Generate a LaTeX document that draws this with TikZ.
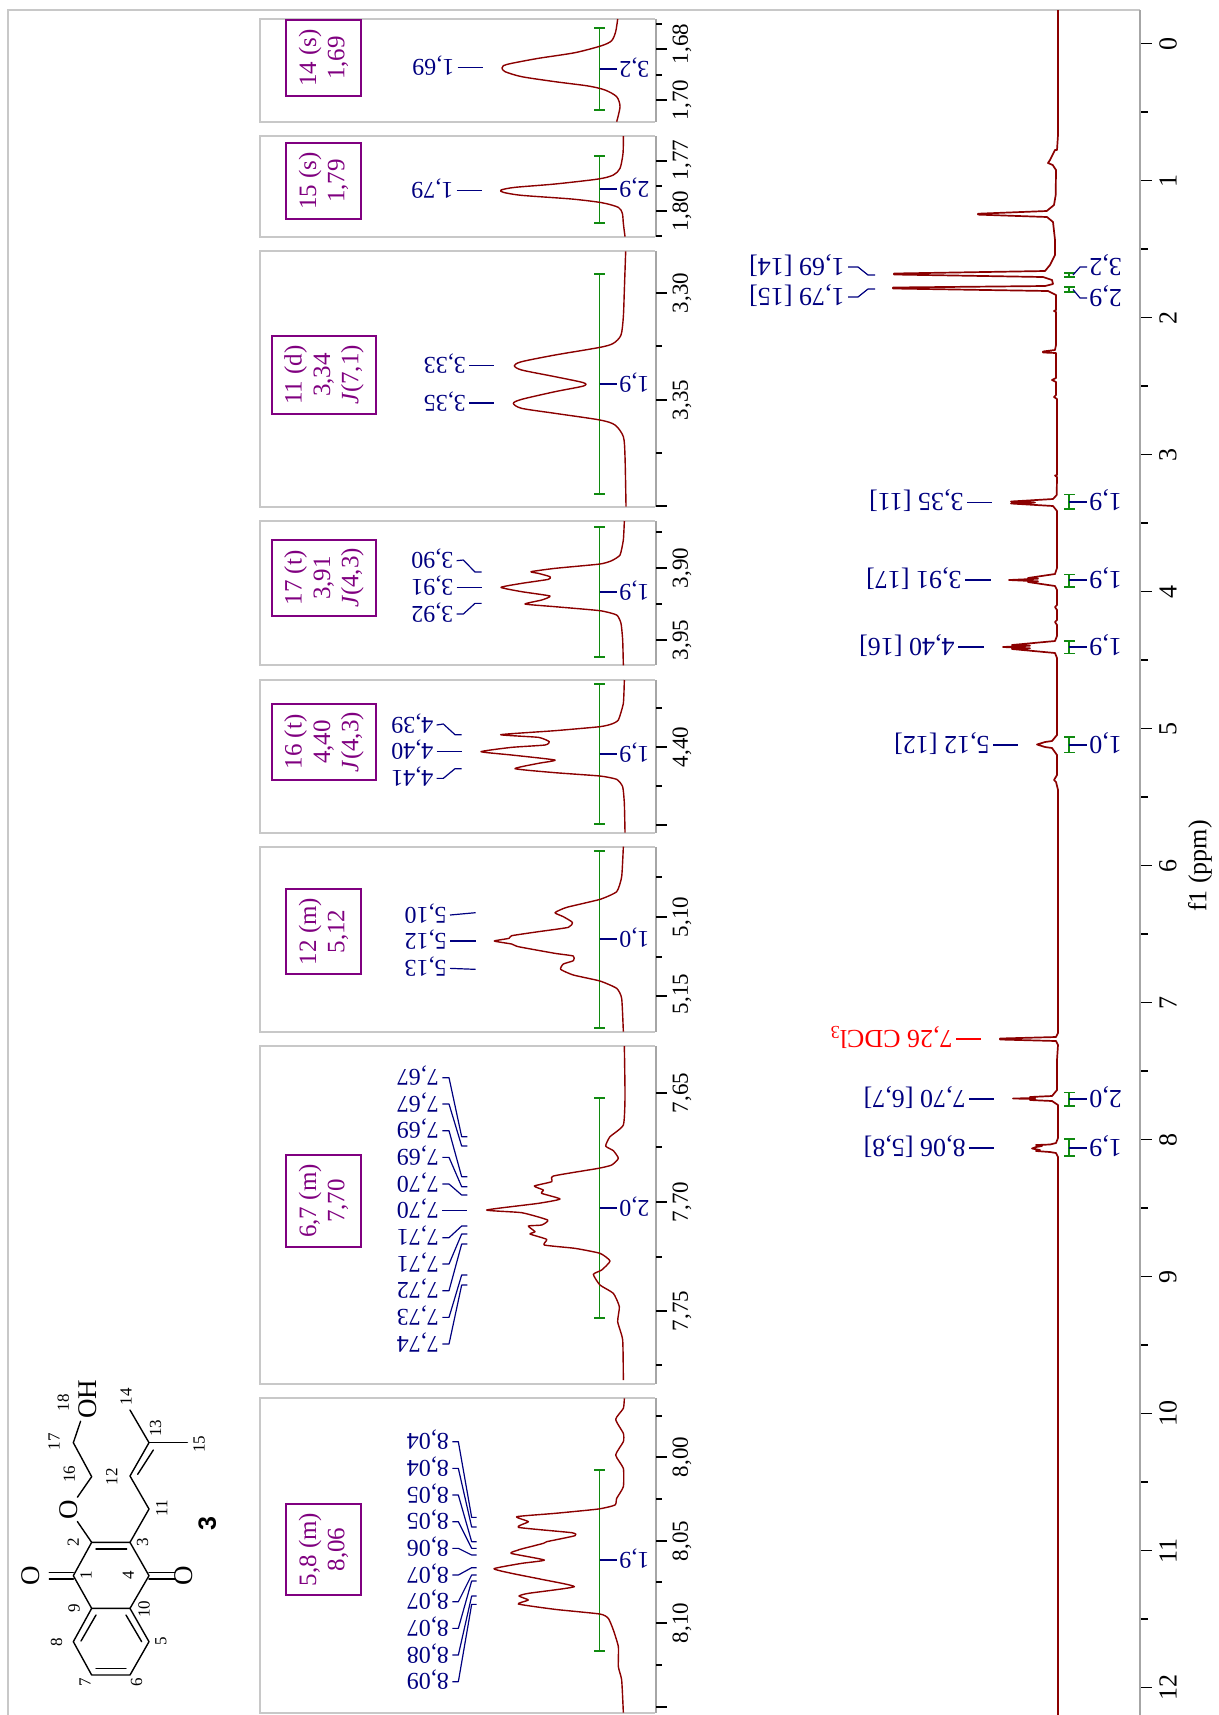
\documentclass[tikz,border=0pt]{standalone}
\usepackage{fontspec}
\setmainfont{Liberation Serif}
\newfontfamily\boldsansfont{Liberation Sans}
\definecolor{spec}{HTML}{8B0000}
\definecolor{lbl}{HTML}{000080}
\definecolor{intc}{HTML}{108A10}
\definecolor{purp}{HTML}{800080}
\definecolor{frameL}{HTML}{C8C8C8}
\definecolor{frameD}{HTML}{A6A6A6}
\tikzset{
 zoomed/.style 2 args={shift={(#1,#2)},x=0.166667pt,y=-0.166667pt},
 trace/.style={spec,line width=.7pt,line join=round},
 lead/.style={lbl,line width=.6pt,line join=round},
 intg/.style={intc,line width=.75pt},
 frameline/.style={frameL,line width=1pt},
 axisline/.style={frameD,line width=1pt},
 tick/.style={black,line width=.6pt},
 plab/.style={lbl,rotate=180,inner ysep=0pt,inner xsep=1.5pt,text height=8pt,text depth=0pt,font=\fontsize{12}{14}\selectfont},
 mlab/.style={plab,font=\fontsize{13}{15}\selectfont,text height=8.8pt},
 ilab/.style={plab,inner xsep=1pt,anchor=east},
 milab/.style={mlab,inner xsep=1pt,anchor=east},
 tlab/.style={black,rotate=90,inner sep=0pt,font=\fontsize{11.5}{13}\selectfont},
 axlab/.style={black,rotate=90,inner sep=0pt,font=\fontsize{13}{15}\selectfont},
 infobox/.style={purp,draw=purp,line width=.75pt,rotate=90,align=center,inner sep=0pt,font=\fontsize{12.5}{14.2}\selectfont},
 bond/.style={black,line width=.7pt,line cap=round,line join=round},
 atomnum/.style={black,rotate=90,inner sep=0pt,font=\fontsize{8.5}{10}\selectfont},
 hetero/.style={black,rotate=90,inner sep=1pt,font=\fontsize{13.5}{15}\selectfont},
}
% panel frame: top, bottom
\newcommand{\Pnl}[2]{%
 \draw[frameline] (655,#1) -- (260,#1) -- (260,#2) -- (655,#2);
 \draw[axisline] (655.5,#1) -- (655.5,#2);}
\newcommand{\MajT}[1]{\draw[tick] (656,#1) -- (667,#1);}
\newcommand{\MinT}[1]{\draw[tick] (656,#1) -- (662,#1);}
% panel integral: id, top, bottom, mid, text
\newcommand{\PInt}[5]{%
 \draw[intg] (599.5,#2) -- (599.5,#3) (594,#2) -- (605,#2) (594,#3) -- (605,#3);
 \node[ilab] (#1) at (617,#4) {#5};
 \draw[lead] (599.5,#4) -- (#1.east);}
% main integral
\newcommand{\MInt}[5]{%
 \draw[intg] (1069,#2) -- (1069,#3) (1064,#2) -- (1075,#2) (1064,#3) -- (1075,#3);
 \node[milab] (#1) at (1087,#4) {#5};
 \draw[lead] (1069,#4) -- (#1.east);}
\begin{document}
\begin{tikzpicture}[x=0.5pt,y=-0.5pt]
\useasboundingbox (0,0) rectangle (1219,1715);
\fill[white] (0,0) rectangle (1219,1715);
% outer frame
\draw[frameline] (8,1715) -- (8,10) -- (1140,10);
\draw[axisline] (1140,10) -- (1140,1715);
\foreach \v in {0,...,12}{
  \pgfmathsetmacro{\yy}{43.5+137*\v}
  \draw[tick] (1141,\yy) -- (1152,\yy);
  \node[axlab] (ax\v) at (1168,\yy) {\v};
}
\foreach \v in {0,...,11}{
  \pgfmathsetmacro{\yy}{43.5+137*(\v+.5)}
  \draw[tick] (1141,\yy) -- (1148,\yy);
}
\node[axlab] (axtitle) at (1200,866) {f1 (ppm)};
% main spectrum
\draw[trace,line width=.85pt] plot coordinates {
(1058,10)(1058,100)(1058,135)(1057,150)(1055,150)(1050,160)(1048,163)(1052.7,165)(1056,170)(1055.7,195)(1054,205)(1046.7,211)(978,213.7)(978,214.6)(1047,217)(1053,222)(1055,240)(1055,255)(1050,265)(1045,271)(894,273.5)(894,274.5)(1043,277)(1052,280)(1053,284)(1045,286)(893,287.5)(893,288.5)(1048,291)(1056,295)
(1056,310)(1054,311)(1056,312)(1056,345)(1055,350)(1043,351.5)(1043,352.5)(1056,353)(1056,378)(1052,380)(1056,382)(1056,395)(1054,397)(1057,399)(1057,475)(1055,475.5)(1057,477)(1056.7,495)(1053,499)(1011,501.5)(1035,502.5)(1011,503.5)(1053,506)(1057,511)
(1057,568)(1055,574)(1028,578)(1038,578.7)(1009,580)(1038,581.3)(1028,582)(1055,586)(1057,590)
(1057,605)(1055,607)(1057,610)(1057,620)(1055,622)(1057,625)(1057,636)(1055,641)(1012,645)(1030,645.7)(1003,647)(1030,648.3)(1012,649)(1055,653)(1057,658)
(1057,735)(1052,741)(1045,742)(1037,744.5)(1045,747)(1052,748)(1057,755)(1057,775)(1054,780)(1056,782)(1058,790)
(1058,1033)(1056,1037)(1000,1038.5)(1000,1039.5)(1056,1041)(1058,1045)(1057,1060)(1057,1090)(1052,1096)(1030,1097)(1035,1098)(1013,1098.5)(1035,1099)(1030,1100)(1052,1101)(1058,1105)
(1058,1138)(1056,1143)(1050,1144.5)(1036,1145)(1042,1146)(1036,1147)(1032,1148.5)(1040,1150)(1036,1151)(1050,1152)(1056,1153)(1058,1157)(1058,1715)};
% main integrals
\MInt{mi82}{1139}{1156}{1148}{1,9}
\MInt{mi77}{1092.5}{1106}{1099}{2,0}
\MInt{mi51}{737}{752.5}{745}{1,0}
\MInt{mi44}{641}{653.5}{647}{1,9}
\MInt{mi39}{574.6}{587}{580}{1,9}
\MInt{mi33}{494.6}{509}{502}{1,9}
\draw[intg] (1069,273) -- (1069,277) (1064,273) -- (1075,273) (1064,277) -- (1075,277);
\draw[intg] (1069,287) -- (1069,292) (1064,287) -- (1075,287) (1064,292) -- (1075,292);
\node[milab] (mi32) at (1087,267) {3,2};
\node[milab] (mi29) at (1087,298) {2,9};
\draw[lead] (mi32.east) -- (1080,267) -- (1073,275);
\draw[lead] (mi29.east) -- (1080,298) -- (1073,289.5);
% main peak labels
\node[mlab,anchor=west] (ml69) at (848,267) {1,69 [14]};
\draw[lead] (ml69.west) -- (858,267) -- (868,275) -- (875,275);
\node[mlab,anchor=west] (ml79) at (848,297) {1,79 [15]};
\draw[lead] (ml79.west) -- (858,297) -- (868,289) -- (875,289);
\node[mlab,anchor=west] (ml335) at (967,502.5) {3,35 [11]};
\draw[lead] (ml335.west) -- (992,502.5);
\node[mlab,anchor=west] (ml391) at (965,580) {3,91 [17]};
\draw[lead] (ml391.west) -- (991,580);
\node[mlab,anchor=west] (ml440) at (958,647) {4,40 [16]};
\draw[lead] (ml440.west) -- (984,647);
\node[mlab,anchor=west] (ml512) at (993,745) {5,12 [12]};
\draw[lead] (ml512.west) -- (1018,745);
\node[mlab,anchor=west,red,text height=8.8pt] (ml726) at (956,1039) {7,26 CDCl\textsubscript{3}};
\draw[red,line width=.6pt] (ml726.west) -- (981,1039);
\node[mlab,anchor=west] (ml770) at (969,1099) {7,70 [6,7]};
\draw[lead] (ml770.west) -- (994,1099);
\node[mlab,anchor=west] (ml806) at (969,1148) {8,06 [5,8]};
\draw[lead] (ml806.west) -- (994,1148);
% panels
\Pnl{19}{122}\Pnl{136}{237}\Pnl{251}{507}\Pnl{521}{665}\Pnl{680}{833}\Pnl{847}{1032}\Pnl{1046}{1384}\Pnl{1398}{1713}
\foreach \t in {49,100,161,211,293,400,506,568,640,747,825,917,996,1093,1202,1311,1457,1541,1623,1707}{\MajT{\t}}
\foreach \t in {24,75,186,236,346,453,532,604,708,786,877,957,1147,1257,1365,1416,1499,1582,1665}{\MinT{\t}}
\foreach \n/\t/\y in {a/{1,68}/44,b/{1,70}/100,c/{1,77}/160,d/{1,80}/211,e/{3,30}/293,f/{3,35}/400,g/{3,90}/568,h/{3,95}/640,i/{4,40}/747,j/{5,10}/917,k/{5,15}/994,l/{7,65}/1093,m/{7,70}/1202,n/{7,75}/1311,o/{8,00}/1457,p/{8,05}/1541,q/{8,10}/1623}{
  \node[tlab] (tl\n) at (682,\y) {\t};
}
% panel boxes
\node[infobox,minimum width=38pt,minimum height=37.5pt] (b14) at (323.5,58) {14 (s)\\1,69};
\node[infobox,minimum width=38pt,minimum height=37.5pt] (b15) at (323.5,181) {15 (s)\\1,79};
\node[infobox,minimum width=39pt,minimum height=52pt] (b11) at (324,375) {11 (d)\\3,34\\\textit{J}(7,1)};
\node[infobox,minimum width=38pt,minimum height=52pt] (b17) at (324,578) {17 (t)\\3,91\\\textit{J}(4,3)};
\node[infobox,minimum width=38pt,minimum height=52pt] (b16) at (324,742) {16 (t)\\4,40\\\textit{J}(4,3)};
\node[infobox,minimum width=42.5pt,minimum height=37.5pt] (b12) at (323.5,931.5) {12 (m)\\5,12};
\node[infobox,minimum width=46pt,minimum height=37.5pt] (b67) at (323.5,1201) {6,7 (m)\\7,70};
\node[infobox,minimum width=45.5pt,minimum height=37.5pt] (b58) at (323.5,1549.5) {5,8 (m)\\8,06};
% panel integrals
\PInt{pi14}{28}{110}{69}{3,2}
\PInt{pi15}{156}{223}{189}{2,9}
\PInt{pi11}{274}{494}{384}{1,9}
\PInt{pi17}{527}{657}{592}{1,9}
\PInt{pi16}{684}{824}{754}{1,9}
\PInt{pi12}{851}{1028}{939}{1,0}
\PInt{pi67}{1098}{1318}{1208}{2,0}
\PInt{pi58}{1470}{1651}{1560}{1,9}
% panels 14 and 15 content
\begin{scope}[zoomed={255}{0}]
\draw[trace] plot[smooth,tension=.45] coordinates {(1088,57)(1082,95)(1070,122)(1040,137)(960,158)(850,175)(770,190)(745,197)(741,204)(750,215)(800,230)(900,245)(1000,258)(1050,270)(1085,290)(1095,320)(1085,365)};
\draw[trace] plot[smooth,tension=.45] coordinates {(1105,408)(1104,460)(1095,505)(1075,525)(1030,537)(900,552)(780,562)(738,570)(745,577)(800,586)(950,597)(1040,608)(1090,622)(1102,640)(1105,670)(1110,710)};
\node[plab,anchor=west] (p169) at (608,202) {1,69};
\draw[lead] (p169.west) -- (685,202);
\node[plab,anchor=west] (p179) at (605,572) {1,79};
\draw[lead] (p179.west) -- (682,572);
\end{scope}
% panels 11 and 17
\begin{scope}[zoomed={255}{240}]
\draw[trace] plot[smooth,tension=.45] coordinates {(1112,34)(1108,150)(1105,230)(1098,285)(1075,310)(1035,322)(900,345)(800,365)(778,377)(800,390)(900,410)(985,428)(985,438)(900,455)(800,478)(775,490)(800,505)(900,520)(1035,540)(1080,555)(1105,590)(1110,650)(1113,800)};
\draw[trace] plot[smooth,tension=.3] coordinates {(1108,843)(1105,900)(1095,945)(1070,962)(1035,972)(900,985)(828,995)(850,1000)(885,1010)(880,1018)(800,1030)(738,1042)(800,1055)(885,1068)(860,1080)(810,1092)(900,1100)(1035,1112)(1085,1125)(1098,1150)(1103,1200)(1105,1276)};
\node[plab,anchor=west] (p333) at (643,376) {3,33};
\draw[lead] (p333.west) -- (718,376);
\node[plab,anchor=west] (p335) at (643,489) {3,35};
\draw[lead] (p335.west) -- (718,489);
\node[plab,anchor=west] (p390) at (605,962) {3,90};
\draw[lead] (p390.west) -- (625,960) -- (660,996) -- (680,996);
\node[plab,anchor=west] (p391) at (605,1043) {3,91};
\draw[lead] (p391.west) -- (680,1043);
\node[plab,anchor=west] (p392) at (605,1122) {3,92};
\draw[lead] (p392.west) -- (625,1122) -- (660,1090) -- (680,1090);
\end{scope}
% panels 16 and 12
\begin{scope}[zoomed={255}{670}]
\draw[trace] plot[smooth,tension=.3] coordinates {(1108,30)(1105,100)(1090,150)(1070,162)(1035,170)(900,182)(737,194)(850,202)(883,215)(870,225)(770,232)(678,245)(770,255)(900,270)(850,280)(780,296)(900,308)(1035,318)(1085,328)(1103,350)(1108,400)(1110,488)};
\draw[trace] plot[smooth,tension=.3] coordinates {(1105,530)(1100,620)(1085,665)(1035,688)(935,712)(900,728)(925,740)(952,757)(940,772)(850,785)(770,797)(762,805)(718,813)(770,822)(790,830)(900,850)(955,858)(955,872)(925,882)(917,898)(955,915)(1035,933)(1085,955)(1100,985)(1105,1085)};
\node[plab,anchor=west] (p439) at (545,165) {4,39};
\draw[lead] (p439.west) -- (565,162) -- (600,194) -- (620,194);
\node[plab,anchor=west] (p440) at (545,245) {4,40};
\draw[lead] (p440.west) -- (620,245);
\node[plab,anchor=west] (p441) at (545,325) {4,41};
\draw[lead] (p441.west) -- (565,325) -- (600,296) -- (620,296);
\node[plab,anchor=west] (p510) at (585,735) {5,10};
\draw[lead] (p510.west) -- (662,728);
\node[plab,anchor=west] (p512) at (585,813) {5,12};
\draw[lead] (p512.west) -- (662,813);
\node[plab,anchor=west] (p513) at (585,895) {5,13};
\draw[lead] (p513.west) -- (662,898);
\end{scope}
% panel 6,7
\begin{scope}[zoomed={255}{1030}]
\draw[trace] plot[smooth,tension=.3] coordinates {(1108,48)(1110,200)(1105,285)(1065,320)(1052,348)(1075,362)(1090,385)(1070,405)(1030,415)(895,438)(890,455)(838,468)(865,480)(860,490)(915,507)(850,520)(695,540)(800,548)(878,570)(860,585)(820,588)(840,605)(825,612)(875,628)(868,645)(960,655)(1035,670)(1065,693)(1040,720)(1015,733)(1035,765)(1075,790)(1093,830)(1088,875)(1103,930)(1105,1050)};
\foreach \n/\t/\ly/\ty in {a/{7,67}/143/320,b/{7,67}/222/348,c/{7,69}/302/440,d/{7,69}/382/470,e/{7,70}/462/495,g/{7,71}/623/588,h/{7,71}/702/612,i/{7,72}/782/642,j/{7,73}/862/735,k/{7,74}/942/765}{
  \node[plab,anchor=west] (q\n) at (562,\ly) {\t};
  \draw[lead] (q\n.west) -- (582,\ly) -- (620,\ty) -- (637,\ty);
}
\node[plab,anchor=west] (qf) at (562,541) {7,70};
\draw[lead] (qf.west) -- (637,541);
\end{scope}
% panel 5,8
\begin{scope}[zoomed={255}{1380}]
\draw[trace] plot[smooth,tension=.3] coordinates {(1108,55)(1105,85)(1082,118)(1105,160)(1105,185)(1082,225)(1105,265)(1105,320)(1085,355)(1080,375)(1030,387)(900,400)(785,410)(820,425)(790,442)(950,458)(960,467)(875,485)(865,490)(795,508)(790,510)(768,520)(868,540)(800,550)(717,566)(770,580)(860,598)(958,620)(820,640)(792,648)(820,660)(790,672)(900,688)(1035,702)(1060,715)(1075,750)(1090,800)(1090,860)(1100,900)(1105,998)};
\foreach \n/\t/\ly/\ty in {a/{8,04}/185/412,b/{8,04}/265/441,c/{8,05}/345/485,d/{8,05}/425/505,e/{8,06}/505/525,f/{8,07}/585/563,g/{8,07}/665/585,h/{8,07}/745/603,i/{8,08}/825/648,j/{8,09}/905/673}{
  \node[plab,anchor=west] (r\n) at (592,\ly) {\t};
  \draw[lead] (r\n.west) -- (610,\ly) -- (650,\ty) -- (665,\ty);
}
\end{scope}
% molecule
\begin{scope}[zoomed={0}{1380}]
\coordinate (c1) at (220,587);\coordinate (c2) at (275,487);\coordinate (c3) at (390,487);
\coordinate (c4) at (447,587);\coordinate (c10) at (390,685);\coordinate (c9) at (275,685);
\coordinate (c8) at (220,785);\coordinate (c7) at (275,885);\coordinate (c6) at (390,885);
\coordinate (c5) at (447,785);\coordinate (c16) at (275,290);\coordinate (c17) at (220,188);
\coordinate (c11) at (447,387);\coordinate (c12) at (390,288);\coordinate (c13) at (447,188);
\coordinate (c14) at (390,90);\coordinate (c15) at (562,188);
\node[hetero] (o1) at (92,587) {O};
\node[hetero] (o4) at (550,587) {O};
\node[hetero] (o2) at (207,388) {O};
\node[hetero] (oh) at (264,58) {OH};
\draw[bond] (c1) -- (c2) -- (c3) -- (c4) -- (c10) -- (c9) -- (c1);
\draw[bond] (c9) -- (c8) -- (c7) -- (c6) -- (c5) -- (c10);
\draw[bond] (288,507) -- (380,507);
\draw[bond] (288,705) -- (243,783);
\draw[bond] (378,705) -- (425,785);
\draw[bond] (288,865) -- (378,865);
\draw[bond] (220,577) -- (148,577) (220,597) -- (148,597);
\draw[bond] (447,577) -- (525,577) (447,597) -- (525,597);
\draw[bond] (c2) -- (o2) -- (c16) -- (c17) -- (oh);
\draw[bond] (c3) -- (c11) -- (c12) -- (c13) -- (c14);
\draw[bond] (c13) -- (c15);
\draw[bond] (413,283) -- (460,210);
\foreach \n/\x/\y in {18/190/68,17/162/185,16/208/283,12/335/290,13/467/145,14/378/50,15/597/193,11/485/385,2/220/487,3/428/487,1/258/585,4/385/587,9/222/685,10/432/687,8/170/787,5/483/785,7/255/908,6/410/908}{
  \node[atomnum] (n\n) at (\x,\y) {\n};
}
\node[rotate=90,inner sep=0pt,font=\boldsansfont\bfseries\fontsize{12.5}{14}\selectfont] (cmpd) at (622,430) {3};
\end{scope}
\end{tikzpicture}
\end{document}
